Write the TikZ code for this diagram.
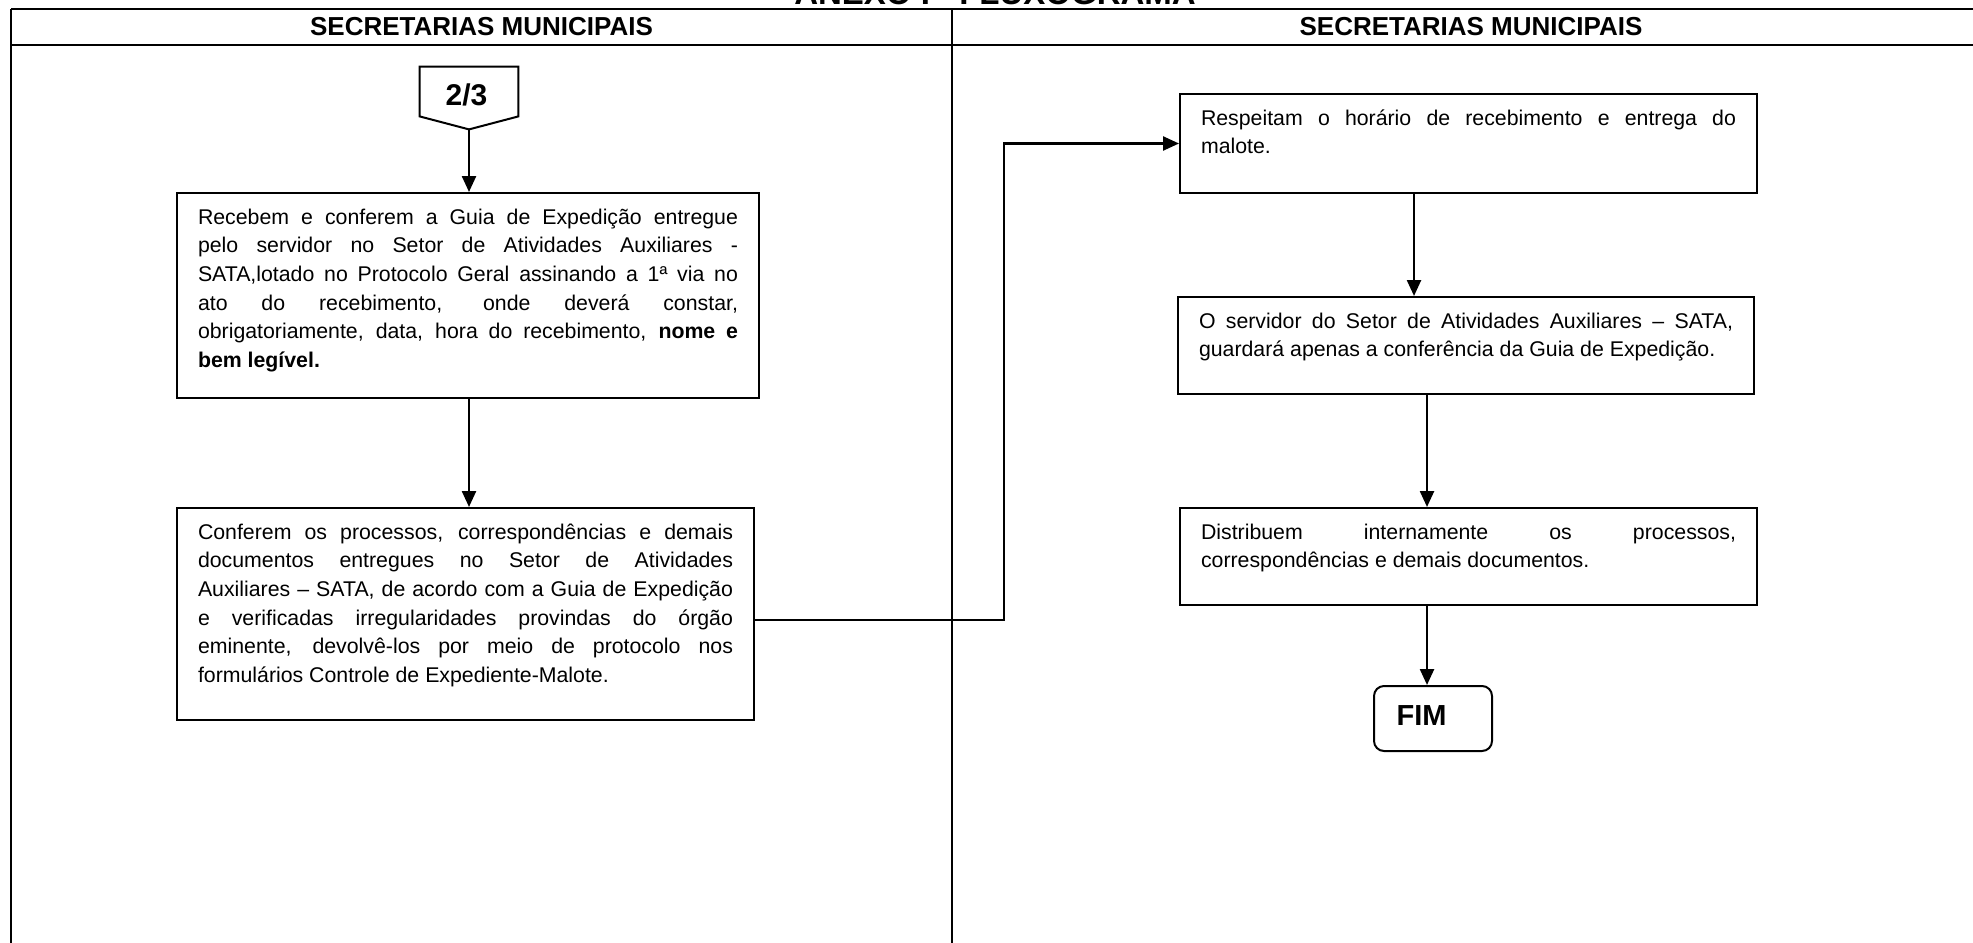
\documentclass[tikz,border=0pt]{standalone}
\usepackage{fontspec}
\setmainfont{Liberation Sans}
\usetikzlibrary{arrows.meta,calc}
\newcommand{\btext}[3]{\parbox[c][#2][t]{#1}{\hyphenpenalty=10000\exhyphenpenalty=10000\tolerance=10000\hfuzz=2pt\vspace*{7.8pt}#3}}
\begin{document}
\begin{tikzpicture}[x=0.5pt,y=-0.5pt,
  frame/.style={line width=1.1pt},
  box/.style={draw, line width=1pt, inner xsep=10.5pt, inner ysep=0pt, font=\fontsize{10.65pt}{14.35pt}\selectfont},
  arr/.style={line width=1.2pt, -{Triangle[length=8pt,width=7pt]}},
  hdr/.style={font=\fontsize{13pt}{15pt}\selectfont\bfseries},
  big/.style={font=\fontsize{15pt}{17pt}\selectfont\bfseries, inner sep=0pt}]
\useasboundingbox (0,0) rectangle (1973,942);
\clip (0,0) rectangle (1973,942);
% title (cut at the top edge, as in the reference)
\node[font=\fontsize{16.5pt}{18pt}\selectfont\bfseries, anchor=base] (title) at (995,4) {ANEXO I - FLUXOGRAMA};
% table
\draw[frame] (11,9) -- (1995,9);
\draw[frame] (11,45) -- (1995,45);
\draw[frame] (11,9) -- (11,960);
\draw[frame] (952,9) -- (952,960);
\node[hdr] (h1) at (481.5,27) {SECRETARIAS MUNICIPAIS};
\node[hdr] (h2) at (1471,27) {SECRETARIAS MUNICIPAIS};
% off-page connector 2/3
\node[big, minimum width=49pt, minimum height=24.5pt] (n23) at (469,91.5) {\rule{0pt}{14.7pt}2/3\hspace*{2.5pt}};
\coordinate (n23tip) at ($(n23.south)+(0,13)$);
\draw[line width=1pt] (n23.north west) -- (n23.north east) -- (n23.south east) -- (n23tip) -- (n23.south west) -- cycle;
% left column boxes
\node[box] (b1) at (468,295.5) {\btext{270pt}{102.5pt}{Recebem e conferem a Guia de Expedição entregue\linebreak
pelo servidor no Setor de Atividades Auxiliares -\linebreak
SATA,lotado no Protocolo Geral assinando a 1ª via no\linebreak
ato do recebimento, onde deverá constar,\linebreak
obrigatoriamente, data, hora do recebimento, \textbf{nome e}\linebreak
\textbf{bem legível.}}};
\node[box] (b2) at (465.5,614) {\btext{267.5pt}{106pt}{Conferem os processos, correspondências e demais\linebreak
documentos entregues no Setor de Atividades\linebreak
Auxiliares – SATA, de acordo com a Guia de Expedição\linebreak
e verificadas irregularidades provindas do órgão\linebreak
eminente, devolvê-los por meio de protocolo nos\linebreak
formulários Controle de Expediente-Malote.}};
% right column boxes
\node[box] (b3) at (1468.5,143.5) {\btext{267.5pt}{49.5pt}{Respeitam o horário de recebimento e entrega do\linebreak
malote.}};
\node[box] (b4) at (1466,345.5) {\btext{267pt}{48.5pt}{O servidor do Setor de Atividades Auxiliares – SATA,\linebreak
guardará apenas a conferência da Guia de Expedição.}};
\node[box] (b5) at (1468.5,556.5) {\btext{267.5pt}{48.5pt}{Distribuem internamente os processos,\linebreak
correspondências e demais documentos.}};
\node[draw, rounded corners=5pt, line width=1pt, minimum width=59pt, minimum height=32.5pt, inner sep=0pt, font=\fontsize{14.5pt}{17pt}\selectfont\bfseries] (fim) at (1433,718.5) {\rule[-2.5pt]{0pt}{0pt}FIM\hspace*{11.4pt}};
% connectors
\coordinate (k1) at (1004,620);
\coordinate (a3) at (1414,0);
\coordinate (a4) at (1427,0);
\draw[arr] (n23tip) -- (n23tip |- b1.north);
\draw[arr] (b1.south -| n23tip) -- (b2.north -| n23tip);
\draw[arr] (b2.east |- k1) -- (k1) |- (b3.west);
\draw[arr] (b3.south -| a3) -- (b4.north -| a3);
\draw[arr] (b4.south -| a4) -- (b5.north -| a4);
\draw[arr] (b5.south -| a4) -- (fim.north -| a4);
\end{tikzpicture}
\end{document}
